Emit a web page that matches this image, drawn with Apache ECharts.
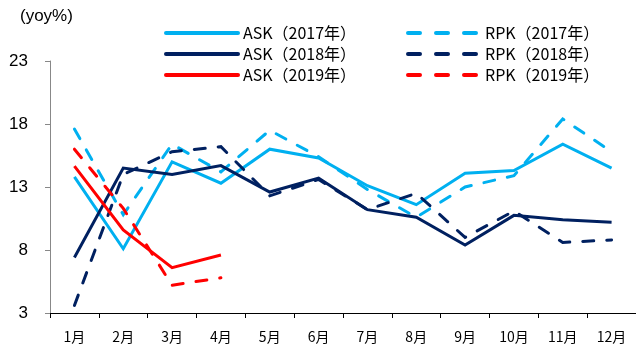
<!DOCTYPE html>
<html>
<head>
<meta charset="utf-8">
<script src="https://cdn.jsdelivr.net/npm/echarts@6/dist/echarts.min.js"></script>
<style>
  html, body { margin: 0; padding: 0; background: #fff; }
  #chart { width: 636px; height: 344px; }
</style>
</head>
<body>
<div id="chart"></div>
<script>
// Monthly year-over-year growth of ASK and RPK (%)
const months = ['1月', '2月', '3月', '4月', '5月', '6月', '7月', '8月', '9月', '10月', '11月', '12月'];
const yTicks = { min: 3, max: 23, step: 5 };

const ask2017 = [13.8, 8.1, 15.0, 13.3, 16.0, 15.3, 13.1, 11.6, 14.1, 14.3, 16.4, 14.5];
const rpk2017 = [17.6, 10.8, 16.4, 14.2, 17.5, 15.4, 12.8, 10.6, 13.0, 13.9, 18.4, 15.8];
const ask2018 = [7.4, 14.5, 14.0, 14.7, 12.6, 13.7, 11.2, 10.6, 8.4, 10.75, 10.4, 10.2];
const rpk2018 = [3.6, 14.0, 15.8, 16.2, 12.3, 13.6, 11.2, 12.5, 9.0, 11.1, 8.6, 8.8];
const ask2019 = [14.65, 9.6, 6.6, 7.6];
const rpk2019 = [16.0, 11.3, 5.2, 5.8];

const names = {
  ask2017: 'ASK（2017年）', ask2018: 'ASK（2018年）', ask2019: 'ASK（2019年）',
  rpk2017: 'RPK（2017年）', rpk2018: 'RPK（2018年）', rpk2019: 'RPK（2019年）'
};

const LIGHT = '#00B0F0', NAVY = '#002060', RED = '#FF0000';
const CJK = '"Noto Sans CJK SC", sans-serif';
const LATIN = '"Liberation Sans", Arial, sans-serif';

function line(name, data, color, dashed) {
  return {
    name, type: 'line', data,
    symbol: 'none',
    smooth: false,
    lineStyle: {
      color, width: 3,
      type: dashed ? [11, 13] : 'solid',
      cap: dashed ? 'round' : 'butt',
      join: 'miter'
    },
    itemStyle: { color },
    emphasis: { disabled: true }
  };
}

const legendBase = {
  orient: 'vertical', top: 25, padding: 0,
  itemWidth: 72, itemHeight: 16, itemGap: 5,
  itemStyle: { opacity: 0 },
  textStyle: { color: '#000', fontFamily: CJK, fontSize: 16 },
  selectedMode: false
};

const chart = echarts.init(document.getElementById('chart'), null, { renderer: 'canvas' });
chart.setOption({
  animation: false,
  backgroundColor: '#fff',
  graphic: [{
    type: 'text', left: 20, top: 8,
    style: { text: '(yoy%)', font: '17px ' + LATIN, fill: '#000' }
  }],
  legend: [
    Object.assign({}, legendBase, {
      left: 164,
      lineStyle: { width: 4, cap: 'round' },
      data: [names.ask2017, names.ask2018, names.ask2019]
    }),
    Object.assign({}, legendBase, {
      left: 406,
      lineStyle: { width: 4, type: [12, 16], cap: 'round' },
      data: [names.rpk2017, names.rpk2018, names.rpk2019]
    })
  ],
  grid: { left: 50, right: 0, top: 61, bottom: 30, containLabel: false },
  xAxis: {
    type: 'category', data: months, boundaryGap: true,
    axisLine: { lineStyle: { color: '#000', width: 1 } },
    axisTick: { show: true, length: 5, alignWithLabel: false, lineStyle: { color: '#000' } },
    axisLabel: { color: '#000', fontFamily: CJK, fontSize: 14, margin: 17, interval: 0 },
    splitLine: { show: false }
  },
  yAxis: {
    type: 'value', min: yTicks.min, max: yTicks.max, interval: yTicks.step,
    axisLine: { show: true, lineStyle: { color: '#888', width: 1 } },
    axisTick: { show: true, length: 5, lineStyle: { color: '#888' } },
    axisLabel: { color: '#000', fontFamily: LATIN, fontSize: 17, margin: 22 },
    splitLine: { show: false }
  },
  series: [
    line(names.ask2017, ask2017, LIGHT, false),
    line(names.rpk2017, rpk2017, LIGHT, true),
    line(names.ask2018, ask2018, NAVY, false),
    line(names.rpk2018, rpk2018, NAVY, true),
    line(names.ask2019, ask2019, RED, false),
    line(names.rpk2019, rpk2019, RED, true)
  ]
});
</script>
</body>
</html>
